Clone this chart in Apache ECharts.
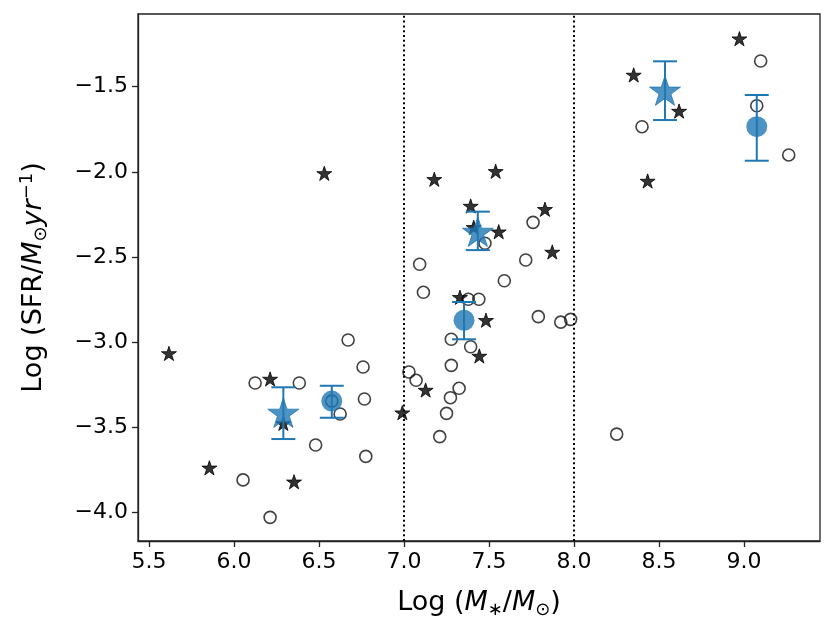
<!DOCTYPE html>
<html>
<head>
<meta charset="utf-8">
<script src="https://cdn.jsdelivr.net/npm/echarts@6/dist/echarts.min.js"></script>
<style>
  html, body { margin: 0; padding: 0; background: #fff; }
  #chart { width: 831px; height: 633px; }
</style>
</head>
<body>
<div id="chart"></div>
<script>
// individual galaxies, open circles
const galaxyCircles = [
  [6.124, -3.241], [6.384, -3.241], [6.575, -3.347], [6.624, -3.423], [6.671, -2.988],
  [6.759, -3.147], [6.767, -3.335], [6.48, -3.605], [6.775, -3.672], [6.053, -3.81],
  [6.212, -4.03], [7.092, -2.543], [7.114, -2.708], [7.716, -2.518], [7.59, -2.64],
  [7.378, -2.749], [7.44, -2.749], [7.79, -2.851], [7.922, -2.883], [7.98, -2.867],
  [7.278, -2.984], [7.392, -3.028], [7.278, -3.137], [7.029, -3.176], [7.071, -3.225],
  [7.324, -3.272], [7.273, -3.327], [7.25, -3.419], [7.21, -3.556], [7.476, -2.42],
  [7.759, -2.297], [9.098, -1.349], [9.075, -1.612], [8.4, -1.735], [9.263, -1.901],
  [8.251, -3.541]
];

// individual galaxies, black stars
const galaxyStars = [
  [5.617, -3.067], [6.212, -3.217], [6.29, -3.478], [5.855, -3.739], [6.353, -3.821],
  [6.531, -2.009], [6.99, -3.415], [7.127, -3.282], [7.178, -2.044], [7.539, -1.997],
  [7.392, -2.201], [7.41, -2.326], [7.557, -2.352], [7.829, -2.22], [7.872, -2.471],
  [7.329, -2.737], [7.482, -2.872], [7.443, -3.082], [8.973, -1.218], [8.351, -1.431],
  [8.618, -1.643], [8.433, -2.054]
];

// binned means: [x, y, low, high]
const meanStars = [
  [6.29, -3.415, -3.57, -3.266],
  [7.434, -2.352, -2.46, -2.234],
  [8.535, -1.523, -1.696, -1.351]
];
const meanCircles = [
  [6.575, -3.347, -3.445, -3.257],
  [7.353, -2.872, -2.984, -2.765],
  [9.075, -1.735, -1.935, -1.549]
];

const binEdges = [7.0, 8.0];
const xTicks = [5.5, 6.0, 6.5, 7.0, 7.5, 8.0, 8.5, 9.0];
const yTicks = [-4.0, -3.5, -3.0, -2.5, -2.0, -1.5];

const BLUE = '#1f77b4';
const FONT = 'DejaVu Sans';
const starPath = 'path://M100,0L122.45,69.1L195.1,69.1L136.3,111.8L158.8,180.9L100,138.2L41.2,180.9L63.7,111.8L4.9,69.1L77.55,69.1Z';

const chart = echarts.init(document.getElementById('chart'));

function errorBars(data) {
  return {
    type: 'custom',
    z: 5,
    data: data.map(d => [d[0], d[2], d[3]]),
    renderItem: function (params, api) {
      const lo = api.coord([api.value(0), api.value(1)]);
      const hi = api.coord([api.value(0), api.value(2)]);
      const w = 12;
      const style = { stroke: BLUE, lineWidth: 2 };
      return {
        type: 'group',
        children: [
          { type: 'line', shape: { x1: lo[0], y1: lo[1], x2: hi[0], y2: hi[1] }, style: style },
          { type: 'line', shape: { x1: lo[0] - w, y1: lo[1], x2: lo[0] + w, y2: lo[1] }, style: style },
          { type: 'line', shape: { x1: hi[0] - w, y1: hi[1], x2: hi[0] + w, y2: hi[1] }, style: style }
        ]
      };
    }
  };
}

const minus = v => v.toFixed(1).replace('-', '\u2212');

const nameRich = {
  n: { fontFamily: FONT, fontSize: 27, color: '#000', lineHeight: 32 },
  i: { fontFamily: FONT, fontSize: 27, fontStyle: 'italic', color: '#000', lineHeight: 32 },
  s: { fontFamily: FONT, fontSize: 18, color: '#000', lineHeight: 18, verticalAlign: 'bottom' },
  p: { fontFamily: FONT, fontSize: 18, color: '#000', lineHeight: 18, verticalAlign: 'top' }
};

const option = {
  animation: false,
  grid: {
    left: 138, right: 11, top: 14, bottom: 92,
    show: true, borderColor: '#222', borderWidth: 1.3
  },
  xAxis: {
    type: 'value',
    min: 5.435, max: 9.447,
    name: '{n|Log (}{i|M}{s|\u2217}{n|/}{i|M}{s|\u2299}{n|)}',
    nameLocation: 'middle',
    nameGap: 46,
    nameTextStyle: { rich: nameRich },
    axisLine: { show: true, lineStyle: { color: '#222', width: 1.3 } },
    axisTick: { show: true, length: 6, lineStyle: { color: '#222', width: 1.3 }, customValues: xTicks },
    axisLabel: {
      customValues: xTicks,
      formatter: v => v.toFixed(1),
      fontFamily: FONT, fontSize: 22, color: '#000', margin: 10
    },
    splitLine: { show: false }
  },
  yAxis: {
    type: 'value',
    min: -4.169, max: -1.073,
    name: '{n|Log (SFR/}{i|M}{s|\u2299}{i|yr}{p|\u22121}{n|)}',
    nameLocation: 'middle',
    nameRotate: 90,
    nameGap: 88,
    nameTextStyle: { rich: nameRich },
    axisLine: { show: true, lineStyle: { color: '#222', width: 1.3 } },
    axisTick: { show: true, length: 6, lineStyle: { color: '#222', width: 1.3 }, customValues: yTicks },
    axisLabel: {
      customValues: yTicks,
      formatter: minus,
      fontFamily: FONT, fontSize: 22, color: '#000', margin: 10
    },
    splitLine: { show: false }
  },
  series: [
    {
      type: 'scatter',
      data: galaxyCircles,
      symbol: 'circle',
      symbolSize: 12,
      itemStyle: { color: 'rgba(0,0,0,0)', borderColor: '#111', borderWidth: 1.6 },
      z: 2,
      markLine: {
        silent: true,
        symbol: 'none',
        label: { show: false },
        lineStyle: { color: '#000', type: [2, 2.8], width: 2 },
        data: binEdges.map(x => ({ xAxis: x }))
      }
    },
    {
      type: 'scatter',
      data: galaxyStars,
      symbol: starPath,
      symbolKeepAspect: true,
      symbolSize: 15,
      itemStyle: { color: '#000', borderColor: '#000', borderWidth: 1 },
      z: 3
    },
    errorBars(meanStars),
    errorBars(meanCircles),
    {
      type: 'scatter',
      data: meanStars.map(d => [d[0], d[1]]),
      symbol: starPath,
      symbolKeepAspect: true,
      symbolSize: 31,
      itemStyle: { color: BLUE, borderColor: BLUE, borderWidth: 1, opacity: 0.8 },
      z: 6
    },
    {
      type: 'scatter',
      data: meanCircles.map(d => [d[0], d[1]]),
      symbol: 'circle',
      symbolSize: 21,
      itemStyle: { color: BLUE, opacity: 0.8 },
      z: 6
    }
  ]
};

chart.setOption(option);

window.addEventListener('resize', () => {
  chart.resize();
});
</script>
</body>
</html>
